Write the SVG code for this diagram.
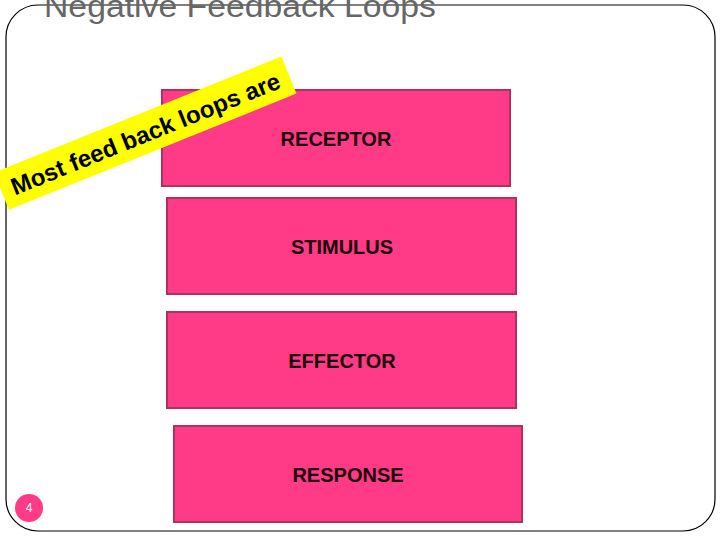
<svg xmlns="http://www.w3.org/2000/svg" width="720" height="540" viewBox="0 0 720 540">
<style>
.box{fill:#ff3a86;stroke:#b03060;stroke-width:2}
.lbl{font-family:"Liberation Sans",Arial,sans-serif;font-size:20px;font-weight:bold;fill:#1a0008;text-anchor:middle}
</style>
<rect width="720" height="540" fill="#fff"/>
<rect x="6" y="5" width="709" height="526" rx="32" ry="32" fill="none" stroke="#000" stroke-width="1.2"/>
<text x="44" y="17" font-family="Liberation Sans,Arial,sans-serif" font-size="31" fill="#666" textLength="392" lengthAdjust="spacingAndGlyphs">Negative Feedback Loops</text>
<g id="receptor"><rect class="box" x="162" y="90" width="348" height="96"/><text class="lbl" x="336" y="146">RECEPTOR</text></g>
<g id="stimulus"><rect class="box" x="167" y="198" width="349" height="96"/><text class="lbl" x="342" y="254">STIMULUS</text></g>
<g id="effector"><rect class="box" x="167" y="312" width="349" height="96"/><text class="lbl" x="342" y="368">EFFECTOR</text></g>
<g id="response"><rect class="box" x="174" y="426" width="348" height="96"/><text class="lbl" x="348" y="482">RESPONSE</text></g>
<g id="connectors"></g>
<g id="banner" transform="translate(148,132) rotate(-22)">
<rect x="-158" y="-20" width="310" height="40" fill="#ffff00"/>
<text x="-3" y="9" text-anchor="middle" font-family="Liberation Sans,Arial,sans-serif" font-weight="bold" font-size="24" fill="#000" textLength="288">Most feed back loops are</text>
</g>
<g id="page"><circle cx="29" cy="508" r="14" fill="#ff3a86"/><text x="29" y="512" text-anchor="middle" font-family="Liberation Sans,Arial,sans-serif" font-size="12" fill="#fff">4</text></g>
</svg>
